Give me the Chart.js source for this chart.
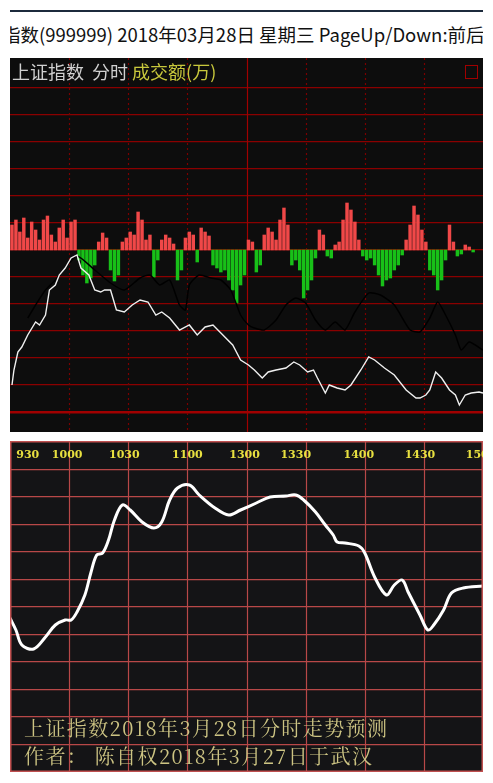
<!DOCTYPE html>
<html>
<head>
<meta charset="utf-8">
<script src="https://cdn.jsdelivr.net/npm/chart.js@4.4.1/dist/chart.umd.min.js"></script>
<style>
  body { margin: 0; background: #fff; width: 493px; height: 783px; overflow: hidden; position: relative; font-family: "Noto Sans CJK SC", sans-serif; }
  .rule { position: absolute; left: 10px; top: 10px; width: 473px; height: 2px; background: #1c2a3c; }
  .head { position: absolute; left: 10px; top: 21px; width: 473px; overflow: hidden; white-space: nowrap; font-size: 18.5px; color: #111; }
  .head div { margin-left: -8px; }
  .box { position: absolute; }
  .title { position: absolute; left: 12px; top: 58px; font-size: 18px; color: #d0d0d0; white-space: nowrap; }
  .title span { color: #c8c83c; }
  .redbox { position: absolute; left: 465px; top: 65px; width: 13px; height: 14px; border: 1.5px solid #a00000; box-sizing: border-box; }
  .note { position: absolute; left: 24px; font-family: "Noto Serif CJK SC", "AR PL UMing CN", serif; font-size: 20px; color: #cdc483; letter-spacing: 1.4px; white-space: nowrap; }
</style>
</head>
<body>
<div class="rule"></div>
<div class="head"><div>指数(999999) 2018年03月28日 星期三 PageUp/Down:前后日</div></div>
<div class="box" style="left:10px;top:58px;width:473px;height:374px"><canvas id="top"></canvas></div>
<div class="title">上证指数&nbsp;&nbsp;分时 <span>成交额(万)</span></div>
<div class="redbox"></div>
<div class="box" style="left:10px;top:441px;width:473px;height:331px"><canvas id="bottom"></canvas></div>
<div class="note" style="top:713px">上证指数2018年3月28日分时走势预测</div>
<div class="note" style="top:741px">作者： 陈自权2018年3月27日于武汉</div>
<script>
// volume bars, one per 2 minutes (positive red, negative green)
const volume = [25,30,18,32,12,28,20,10,30,34,15,8,22,30,12,28,30,
  -10,-25,-33,-28,-15,8,17,12,-20,-31,-25,
  8,12,18,15,38,30,10,15,-27,-10,10,15,12,6,-30,-20,
  12,18,15,-12,22,18,14,-15,-18,-22,-20,-30,-40,-53,-35,-25,
  10,8,-22,-15,15,22,18,10,30,42,25,
  -15,-10,-20,-48,-40,-30,-8,20,15,-6,-8,
  5,8,30,47,40,28,10,-6,-10,-8,-15,-25,-36,-30,-28,-20,-15,-5,
  10,25,44,35,20,8,-20,-25,-40,-30,-10,25,8,-6,-4,5,3,-2];
const volBase = 162;

// white price line [minute, value]
const priceLine = [[1,27],[2,42],[4,60],[6,65],[9,77],[13,90],[15,87],[18,97],[20,122],[23,127],[25,137],[28,144],
  [31,154],[34,157],[36,144],[40,137],[43,122],[46,120],[48,122],[51,122],[54,102],[58,100],[62,107],[66,112],
  [70,110],[74,97],[77,100],[81,94],[86,82],[91,87],[95,77],[99,85],[103,87],[108,77],[113,67],[117,52],
  [121,47],[124,42],[128,34],[131,40],[135,42],[140,44],[144,50],[147,47],[151,40],[154,42],[156,34],[160,19],
  [162,27],[166,24],[170,22],[173,27],[178,42],[182,55],[185,52],[190,44],[195,37],[201,22],[206,14],[208,14],
  [211,17],[213,22],[216,40],[219,34],[223,22],[226,17],[228,7],[231,17],[234,19],[238,20],[240,19]];

// black average line
const avgLine = [[9,94],[13,107],[18,122],[23,132],[28,144],[34,156],[43,142],[51,129],[58,122],[66,134],[71,137],
  [76,127],[81,132],[86,107],[89,102],[91,127],[96,137],[102,134],[107,132],[112,122],[117,97],[121,87],[124,84],
  [129,82],[135,92],[140,107],[145,114],[150,109],[155,92],[160,82],[165,90],[170,82],[175,100],[182,119],
  [188,117],[195,107],[203,82],[208,80],[213,94],[217,110],[221,97],[226,77],[229,62],[233,70],[240,62]];

// forecast line
const forecast = [[0,154],[3,142],[6,127],[12,123],[18,135],[23,147],[28,152],[31,152],[34,160],[38,177],[41,199],
  [44,217],[47,219],[50,232],[53,252],[57,267],[61,262],[67,250],[73,244],[77,250],[81,272],[85,284],[91,287],
  [96,277],[104,264],[111,257],[117,262],[125,269],[132,275],[140,276],[145,277],[149,272],[155,260],[160,247],
  [164,237],[166,230],[170,229],[177,226],[180,219],[185,195],[191,177],[195,187],[199,192],[202,180],[208,157],
  [212,142],[215,147],[220,162],[224,179],[230,184],[240,186]];
const timeLabels = ['930','1000','1030','1100','1300','1330','1400','1430','1500'];
const labelMinutes = [9,29,58,90,119,145,177,208,239];

const topGrid = [0,27,54,81,108,135,162,189,216,243,270,297,324];
const bottomGrid = [27,55,82,110,137,165,192,220,247,275,302];

const pts = a => a.map(p => ({ x: p[0], y: p[1] }));

const bg = color => ({
  id: 'bg',
  beforeDraw(c) {
    const ctx = c.ctx;
    ctx.save(); ctx.fillStyle = color; ctx.fillRect(0, 0, c.width, c.height); ctx.restore();
  }
});

const vlines = (mins, colorFn, dashFn, width) => ({
  id: 'vlines',
  beforeDatasetsDraw(c) {
    const ctx = c.ctx, xs = c.scales.x, a = c.chartArea;
    ctx.save();
    mins.forEach(m => {
      const x = Math.round(xs.getPixelForValue(m)) + 0.5;
      ctx.strokeStyle = colorFn(m); ctx.lineWidth = width; ctx.setLineDash(dashFn(m));
      ctx.beginPath(); ctx.moveTo(x, a.top); ctx.lineTo(x, a.bottom); ctx.stroke();
    });
    ctx.restore();
  }
});

new Chart(document.getElementById('top'), {
  data: {
    datasets: [
      { type: 'bar', data: volume.map((v, i) => ({ x: i * 2 + 1, y: [volBase, volBase + v] })),
        backgroundColor: volume.map(v => v >= 0 ? '#f04848' : '#18c018'),
        barThickness: 2.8, order: 3 },
      { type: 'line', data: pts(avgLine), borderColor: '#000', borderWidth: 1.5, pointRadius: 0, tension: 0.2, order: 2 },
      { type: 'line', data: pts(priceLine), borderColor: '#f0f0f0', borderWidth: 1.4, pointRadius: 0, order: 1 }
    ]
  },
  options: {
    responsive: true, maintainAspectRatio: false, animation: false,
    layout: { padding: 0 },
    plugins: { legend: { display: false }, tooltip: { enabled: false } },
    scales: {
      x: { type: 'linear', min: 0, max: 240, display: false, offset: false },
      y: { min: -20, max: 354, display: true, border: { display: false },
        ticks: { display: false }, afterBuildTicks: s => { s.ticks = topGrid.map(v => ({ value: v })); },
        grid: { color: v => v.tick && v.tick.value === 0 ? '#a00000' : '#8a0000', lineWidth: v => v.tick && v.tick.value === 0 ? 2.5 : 1.2, drawTicks: false } }
    }
  },
  plugins: [bg('#0d0d0d'), vlines([30, 60, 90, 120, 150, 180, 210], m => m === 120 ? '#a00000' : '#7a0000', m => m === 120 ? [] : [2, 3], 1.2)]
});

new Chart(document.getElementById('bottom'), {
  type: 'line',
  data: { datasets: [{ data: pts(forecast), borderColor: '#fff', borderWidth: 3, pointRadius: 0, tension: 0.35 }] },
  options: {
    responsive: true, maintainAspectRatio: false, animation: false,
    layout: { padding: 0 },
    plugins: { legend: { display: false }, tooltip: { enabled: false } },
    scales: {
      x: { type: 'linear', min: 0, max: 240, display: false },
      y: { min: 0, max: 331, display: true, border: { display: false },
        ticks: { display: false }, afterBuildTicks: s => { s.ticks = bottomGrid.map(v => ({ value: v })); },
        grid: { color: '#b84848', lineWidth: 1.2, drawTicks: false } }
    }
  },
  plugins: [bg('#141416'), vlines([30, 60, 90, 120, 150, 180, 210], () => '#b84848', () => [], 1.2), {
    id: 'frame',
    afterDraw(c) {
      const ctx = c.ctx, xs = c.scales.x, ys = c.scales.y;
      ctx.save();
      ctx.strokeStyle = '#c05050'; ctx.lineWidth = 1.5;
      ctx.strokeRect(0.75, 0.75, c.width - 1.5, c.height - 1.5);
      ctx.fillStyle = '#e8e040'; ctx.font = 'bold 11px "DejaVu Serif", serif';
      ctx.textAlign = 'center'; ctx.textBaseline = 'middle';
      timeLabels.forEach((t, i) => ctx.fillText(t, xs.getPixelForValue(labelMinutes[i]), ys.getPixelForValue(317)));
      ctx.restore();
    }
  }]
});
</script>
</body>
</html>
